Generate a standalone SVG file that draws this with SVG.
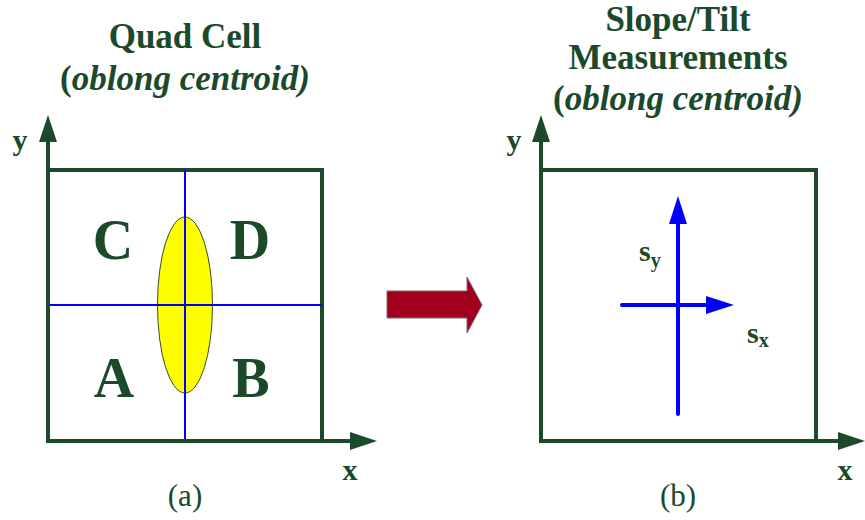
<svg xmlns="http://www.w3.org/2000/svg" width="865" height="520" viewBox="0 0 865 520">
<defs>
<style>
.t{font-family:'Liberation Serif','DejaVu Serif',serif;fill:#1b4a2a}
.b{font-weight:bold}
.ttl{font-size:35px;font-weight:bold;text-anchor:middle}
.q{font-size:56px;font-weight:bold;text-anchor:middle}
.ax{font-size:30px;font-weight:bold;text-anchor:middle}
.cap{font-size:31px;text-anchor:middle}
.frame{fill:none;stroke:#1b4a2a;stroke-width:4}
.grid{stroke:#0000ff;stroke-width:2;fill:none}
.vec{stroke:#0000ff;stroke-width:4;stroke-linecap:round;fill:none}
</style>
<marker id="ah" markerUnits="userSpaceOnUse" markerWidth="30" markerHeight="20" refX="0" refY="9" orient="auto" viewBox="0 0 30 20">
<path d="M0,0 L27,9 L0,18 Z" fill="#1b4a2a"/>
</marker>
<marker id="bh" markerUnits="userSpaceOnUse" markerWidth="30" markerHeight="20" refX="0" refY="9" orient="auto" viewBox="0 0 30 20">
<path d="M0,0 L28,9 L0,18 Z" fill="#0000ff"/>
</marker>
</defs>

<g id="title-a" font-family="Liberation Serif, DejaVu Serif, serif">
<text class="t ttl" x="185" y="48">Quad Cell</text>
<text class="t ttl" x="185" y="90">(<tspan font-style="italic">oblong centroid)</tspan></text>
</g>
<g id="title-b" font-family="Liberation Serif, DejaVu Serif, serif">
<text class="t ttl" x="678" y="31">Slope/Tilt</text>
<text class="t ttl" x="678" y="69">Measurements</text>
<text class="t ttl" x="678" y="110">(<tspan font-style="italic">oblong centroid)</tspan></text>
</g>

<g id="panel-a" font-family="Liberation Serif, DejaVu Serif, serif">
<polyline class="frame" points="48,170 322,170 322,441"/>
<ellipse cx="185" cy="305" rx="27.5" ry="88" fill="#ffff00" stroke="#3a4a2a" stroke-width="1"/>
<line class="grid" x1="185" y1="170" x2="185" y2="441"/>
<line class="grid" x1="48" y1="305" x2="322" y2="305"/>
<text class="t q" x="113" y="259">C</text>
<text class="t q" x="250" y="259">D</text>
<text class="t q" x="114" y="397">A</text>
<text class="t q" x="251" y="397">B</text>
<text class="t ax" x="20" y="150">y</text>
<text class="t ax" x="350" y="480">x</text>
<text class="t cap" x="185" y="506">(a)</text>
</g>

<g id="panel-b" font-family="Liberation Serif, DejaVu Serif, serif">
<polyline class="frame" points="541,170 816,170 816,441"/>
<line class="vec" x1="678" y1="414" x2="678" y2="224" marker-end="url(#bh)"/>
<line class="vec" x1="622" y1="305" x2="706" y2="305" marker-end="url(#bh)"/>
<text class="t b" x="639" y="261" font-size="30">s<tspan font-size="20" dy="6">y</tspan></text>
<text class="t b" x="747" y="343" font-size="30">s<tspan font-size="20" dy="4">x</tspan></text>
<text class="t ax" x="845" y="480">x</text>
<text class="t ax" x="514" y="150">y</text>
<text class="t cap" x="678" y="506">(b)</text>
</g>

<g id="connectors">
<polyline class="frame" points="48,441 48,142" marker-end="url(#ah)"/>
<polyline class="frame" points="46,441 350,441" marker-end="url(#ah)"/>
<polyline class="frame" points="541,441 541,142" marker-end="url(#ah)"/>
<polyline class="frame" points="539,441 838,441" marker-end="url(#ah)"/>
<path d="M387,291 L467,291 L467,277 L482,305 L467,333 L467,318 L387,318 Z" fill="#a0001e" stroke="#7a6a6a" stroke-width="1"/>
</g>
</svg>
